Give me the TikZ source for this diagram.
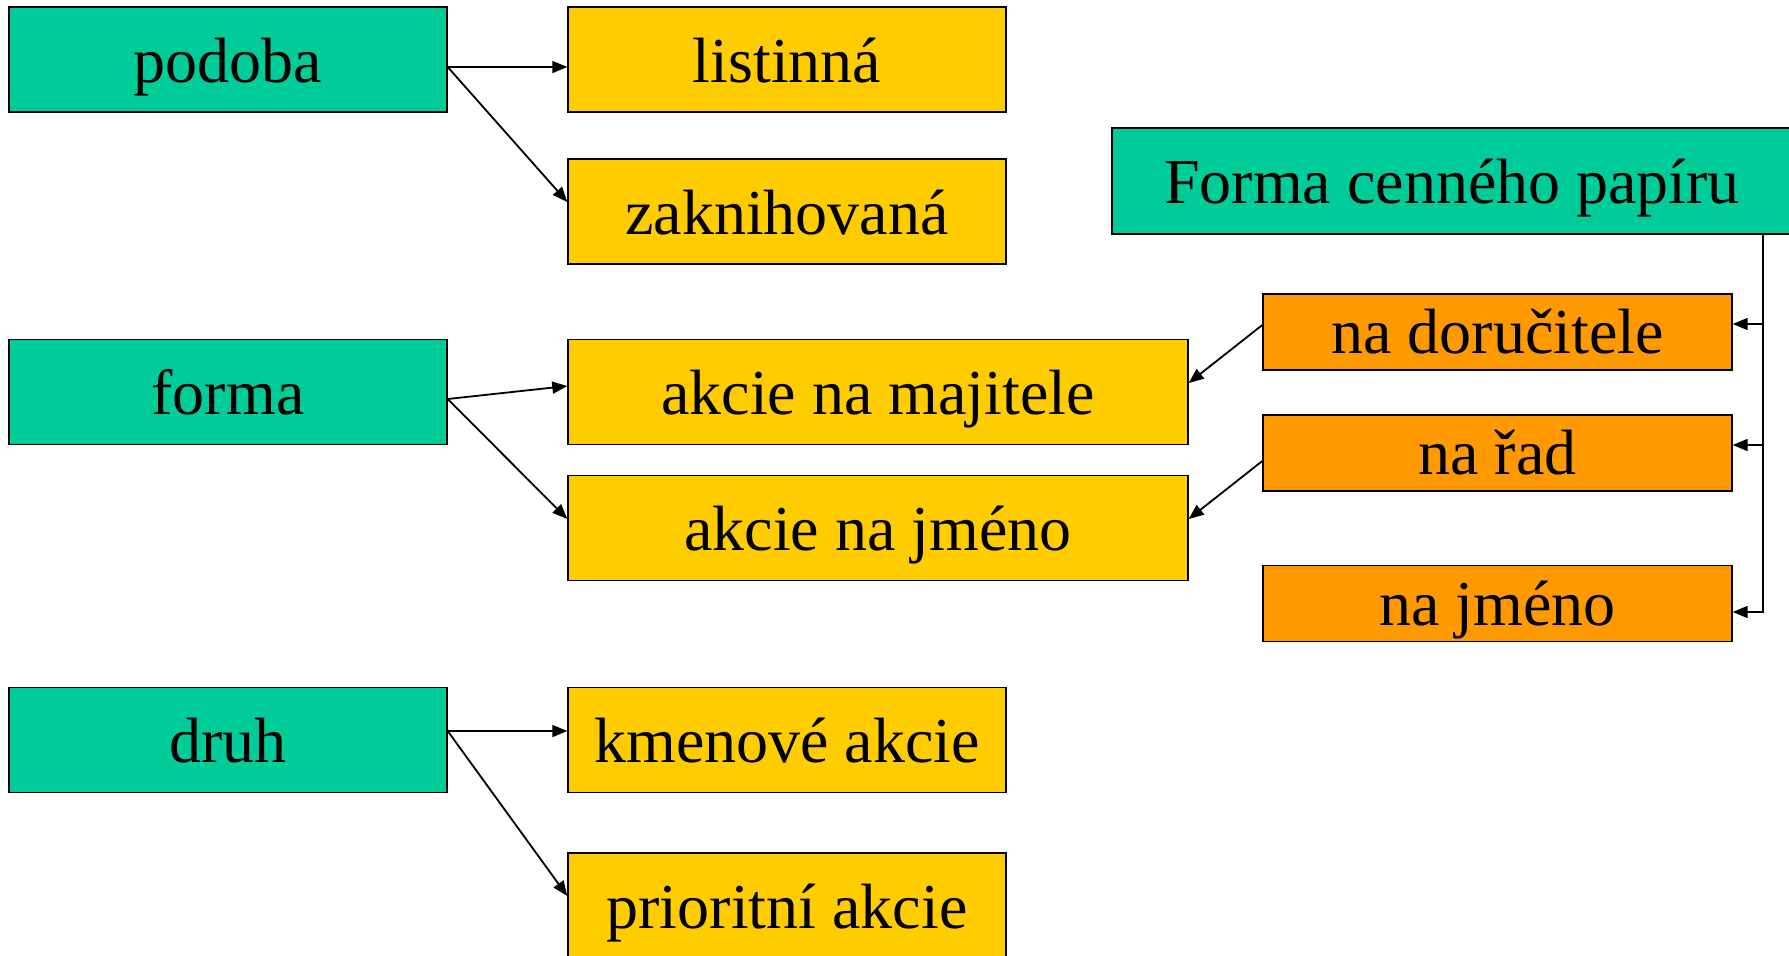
\documentclass[tikz,border=0pt]{standalone}
\usepackage{fontspec}
\setmainfont{Liberation Serif}
\usetikzlibrary{arrows.meta}
\definecolor{tgreen}{HTML}{00CC99}
\definecolor{tyellow}{HTML}{FFCC00}
\definecolor{torange}{HTML}{FF9900}
\tikzset{
  box/.style={draw=black, line width=1.4pt, inner sep=0pt, minimum height=105pt,
    text height=45pt, text depth=0pt,
    font=\fontsize{64}{70}\selectfont, text=black},
  gbox/.style={box, fill=tgreen, minimum width=438pt},
  ybox/.style={box, fill=tyellow, minimum width=438pt},
  ywide/.style={box, fill=tyellow, minimum width=620pt},
  obox/.style={box, fill=torange, minimum width=469pt, minimum height=76pt, text height=43pt},
  arr/.style={draw=black, line width=1.8pt, -{Triangle[length=15pt,width=12pt]}},
}
\begin{document}
\begin{tikzpicture}[x=1pt,y=-1pt]
\useasboundingbox (0,0) rectangle (1789,956);
\fill[white] (0,0) rectangle (1789,956);
% left column
\node[gbox] (podoba) at (228,59.5) {podoba};
\node[gbox] (forma) at (228,392) {forma};
\node[gbox] (druh) at (228,740) {druh};
% middle
\node[ybox] (listinna) at (787,59.5) {listinná};
\node[ybox] (zaknih) at (787,211.5) {zaknihovaná};
\node[ywide] (majitel) at (878,392) {akcie na majitele};
\node[ywide] (jmenoA) at (878,528) {akcie na jméno};
\node[ybox] (kmen) at (787,740) {kmenové akcie};
\node[ybox] (prior) at (787,905.5) {prioritní akcie};
% right
\node[box, fill=tgreen, minimum width=680pt, minimum height=106pt] (fcp) at (1452,181) {Forma cenného papíru};
\node[obox] (dor) at (1497.5,332) {na doručitele};
\node[obox] (rad) at (1497.5,453) {na řad};
\node[obox] (jmenoB) at (1497.5,603.5) {na jméno};
\coordinate (trunk) at (1763,0);
% connectors left
\draw[arr] ([yshift=-7.5pt]podoba.east) -- ([yshift=-7.5pt]listinna.west);
\draw[arr] ([yshift=-7.5pt]podoba.east) -- ([yshift=9.5pt]zaknih.west);
\draw[arr] ([yshift=-7pt]forma.east) -- ([yshift=6pt]majitel.west);
\draw[arr] ([yshift=-7pt]forma.east) -- ([yshift=9pt]jmenoA.west);
\draw[arr] ([yshift=9pt]druh.east) -- ([yshift=9pt]kmen.west);
\draw[arr] ([yshift=9pt]druh.east) -- ([yshift=9.5pt]prior.west);
% orange to yellow
\draw[arr] ([yshift=7pt]dor.west) -- ([yshift=9pt]majitel.east);
\draw[arr] ([yshift=-8pt]rad.west) -- ([yshift=9pt]jmenoA.east);
% trunk
\draw[arr] (fcp.south -| trunk) |- ([yshift=-8.5pt]jmenoB.east);
\draw[arr] ([yshift=8pt]dor.east -| trunk) -- ([yshift=8pt]dor.east);
\draw[arr] ([yshift=8pt]rad.east -| trunk) -- ([yshift=8pt]rad.east);
\end{tikzpicture}
\end{document}
